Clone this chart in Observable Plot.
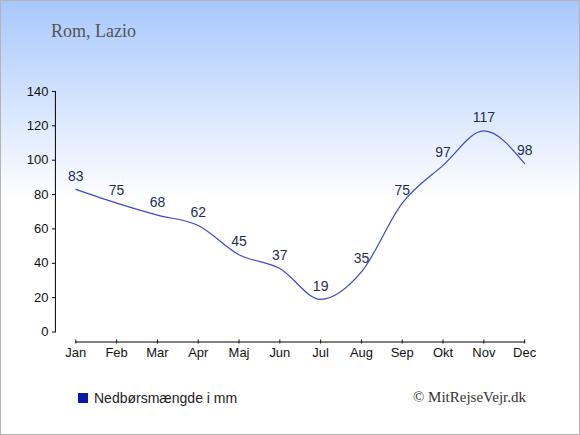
<!DOCTYPE html>
<html>
<head>
<meta charset="utf-8">
<script src="https://cdn.jsdelivr.net/npm/d3@7"></script>
<script src="https://cdn.jsdelivr.net/npm/@observablehq/plot@0.6"></script>
<style>
  html, body { margin: 0; padding: 0; }
  #wrap {
    position: relative; width: 580px; height: 435px; box-sizing: border-box;
    border: 1px solid #b4b4b4; overflow: hidden;
    background: linear-gradient(to bottom, #a8c8fc 0px, #ffffff 200px, #ffffff 435px);
    font-family: "Liberation Sans", Arial, sans-serif;
  }
  #title { position: absolute; left: 50px; top: 20px; font-family: "Liberation Serif", "DejaVu Serif", serif; font-size: 18px; color: #555; }
  #chart { position: absolute; left: -1px; top: 59px; }
  #legend { position: absolute; left: 77px; top: 389px; font-size: 14px; color: #222; display: flex; align-items: center; }
  #legend .sw { width: 10px; height: 10px; background: #0a1aa8; margin-right: 6px; }
  #credit { position: absolute; right: 53px; top: 388px; font-family: "Liberation Serif", "DejaVu Serif", serif; font-size: 15px; color: #333; }
</style>
</head>
<body>
<div id="wrap">
  <div id="title">Rom, Lazio</div>
  <div id="chart"></div>
  <div id="legend"><span class="sw"></span><span>Nedbørsmængde i mm</span></div>
  <div id="credit">© MitRejseVejr.dk</div>
</div>
<script>
const months = ["Jan","Feb","Mar","Apr","Maj","Jun","Jul","Aug","Sep","Okt","Nov","Dec"];
const precipitation = [83, 75, 68, 62, 45, 37, 19, 35, 75, 97, 117, 98];
const yTicks = [0, 20, 40, 60, 80, 100, 120, 140];

const data = months.map((m, i) => ({month: m, value: precipitation[i]}));

const chart = Plot.plot({
  width: 580,
  height: 320,
  marginLeft: 55,
  marginRight: 34.5,
  marginTop: 31,
  marginBottom: 38,
  style: {background: "transparent", fontFamily: "Liberation Sans, Arial, sans-serif", fontSize: "13px", color: "#111", overflow: "visible"},
  x: {type: "point", domain: months, padding: 0.5, round: false, label: null},
  y: {domain: [0, 140], range: [272, 31], label: null},
  marks: [
    Plot.frame({anchor: "left", insetBottom: 10, stroke: "#000"}),
    Plot.frame({anchor: "bottom", insetLeft: 20.4, insetRight: 20.4, stroke: "#000"}),
    Plot.axisY({ticks: yTicks, tickSize: 3, tickPadding: 4, fontSize: 13, label: null, stroke: "#000"}),
    Plot.axisX({tickSize: 4, dy: -2, tickFormat: () => "", label: null}),
    Plot.axisX({tickSize: 0, tickPadding: 6, fontSize: 13, label: null}),
    Plot.line(data, {x: "month", y: "value", curve: "monotone-x", stroke: "#3a48cc", strokeWidth: 1.2}),
    Plot.text(data, {x: "month", y: "value", text: d => String(d.value), dy: -13, fill: "#1f2d55", fontSize: 14})
  ]
});
document.getElementById("chart").appendChild(chart);
</script>
</body>
</html>
